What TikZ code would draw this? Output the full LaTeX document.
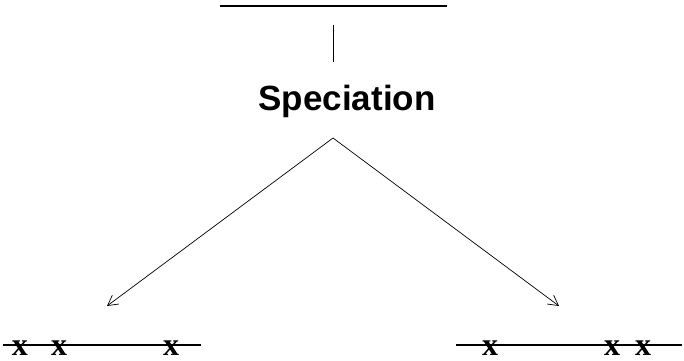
\documentclass[tikz,border=0pt]{standalone}
\usepackage{fontspec}
\setmainfont{Liberation Serif}
\setsansfont{Liberation Sans}
\usetikzlibrary{arrows.meta}

\begin{document}
\begin{tikzpicture}[x=1pt,y=-1pt,
    mutation/.style={anchor=base,inner sep=0pt,font=\fontsize{32}{32}\selectfont\bfseries},
    split/.style={-{Straight Barb[length=10pt,width=11pt]},line width=0.7pt}]
    \useasboundingbox (0,0) rectangle (684,360);

    % Вихідна лінія вгорі
    \coordinate (L1) at (220,6);
    \coordinate (L2) at (447,6);
    \draw[line width=1.8pt] (L1) -- (L2);

    % Коротка риска
    \coordinate (T1) at (333,25);
    \coordinate (T2) at (333,62);
    \draw[line width=0.7pt] (T1) -- (T2);

    % Підпис
    \node[font=\sffamily\bfseries\fontsize{35}{35}\selectfont,inner sep=0pt,anchor=base] (S) at (347,110) {Speciation};

    % Розгалуження
    \coordinate (P) at (333,138);
    \coordinate (EL) at (107,306);
    \coordinate (ER) at (559,306);
    \draw[split] (P) -- (EL);
    \draw[split] (P) -- (ER);

    % Дві нові лінії
    \coordinate (A1) at (3,345);
    \coordinate (A2) at (201,345);
    \coordinate (B1) at (456,345);
    \coordinate (B2) at (682,345);
    \draw[line width=1.4pt] (A1) -- (A2);
    \draw[line width=1.4pt] (B1) -- (B2);

    % Мутації
    \node[mutation] (a1) at (20,355) {x};
    \node[mutation] (a2) at (59,355) {x};
    \node[mutation] (a3) at (171,355) {x};
    \node[mutation] (b1) at (490,355) {x};
    \node[mutation] (b2) at (612,355) {x};
    \node[mutation] (b3) at (643,355) {x};
\end{tikzpicture}
\end{document}
